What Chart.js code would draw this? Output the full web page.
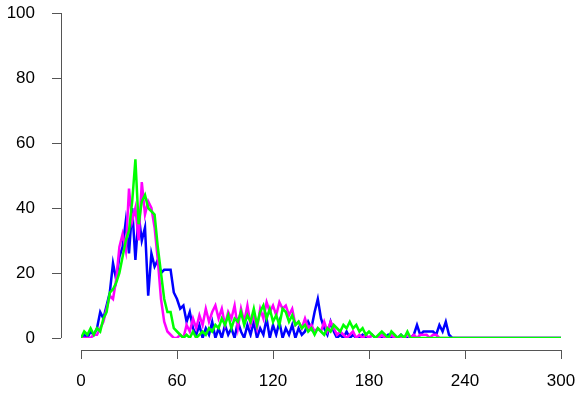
<!DOCTYPE html>
<html>
<head>
<meta charset="utf-8">
<script src="https://cdn.jsdelivr.net/npm/chart.js@4.4.1/dist/chart.umd.min.js"></script>
<style>
  html, body { margin: 0; padding: 0; background: #fff; }
  #wrap { width: 582px; height: 394px; }
</style>
</head>
<body>
<div id="wrap"><canvas id="chart" width="582" height="394"></canvas></div>
<script>
// one value every 2 units along x, starting at 0 (151 values -> 0..300)
const xStep = 2;
const xTicks = [0, 60, 120, 180, 240, 300];
const yTicks = [0, 20, 40, 60, 80, 100];

const blueValues = [
  0, 1, 0, 2, 1, 3, 8, 6, 10, 14, 23, 18, 25, 28, 36, 26, 40, 24, 38, 30,
  34, 13, 26, 22, 24, 20, 21, 21, 21, 14, 12, 9, 10, 5, 8, 3, 1, 4, 0, 3,
  1, 5, 0, 3, 0, 4, 1, 3, 0, 5, 2, 0, 4, 1, 5, 0, 3, 1, 6, 0,
  4, 1, 5, 0, 3, 1, 4, 0, 3, 1, 2, 5, 3, 8, 12, 6, 3, 1, 5, 2,
  0, 1, 0, 2, 0, 1, 0, 0, 1, 0, 0, 1, 0, 0, 0, 0, 1, 0, 0, 0,
  1, 0, 0, 0, 1, 4, 1, 2, 2, 2, 2, 1, 4, 2, 5, 1, 0, 0, 0, 0,
  0, 0, 0, 0, 0, 0, 0, 0, 0, 0, 0, 0, 0, 0, 0, 0, 0, 0, 0, 0,
  0, 0, 0, 0, 0, 0, 0, 0, 0, 0,
  0
];
const magentaValues = [
  0, 0, 0, 0, 1, 1, 3, 5, 9, 13, 12, 18, 28, 32, 27, 46, 36, 40, 30, 48,
  38, 42, 40, 34, 24, 12, 5, 2, 1, 0, 0, 1, 0, 4, 2, 6, 3, 7, 4, 9,
  5, 8, 10, 6, 9, 4, 8, 6, 10, 3, 9, 5, 10, 4, 7, 3, 9, 6, 11, 8,
  10, 7, 11, 9, 10, 7, 9, 4, 5, 3, 6, 3, 4, 2, 3, 2, 5, 2, 5, 3,
  1, 2, 1, 0, 1, 2, 0, 1, 0, 1, 0, 1, 0, 0, 1, 0, 0, 1, 0, 0,
  0, 0, 1, 0, 1, 0, 1, 1, 1, 0, 1, 1, 0, 0, 0, 0, 0, 0, 0, 0,
  0, 0, 0, 0, 0, 0, 0, 0, 0, 0, 0, 0, 0, 0, 0, 0, 0, 0, 0, 0,
  0, 0, 0, 0, 0, 0, 0, 0, 0, 0,
  0
];
const greenValues = [
  0, 2, 1, 3, 1, 3, 2, 6, 8, 14, 15, 17, 20, 25, 30, 33, 42, 55, 35, 42,
  44, 40, 39, 38, 28, 20, 12, 8, 8, 3, 2, 1, 0, 1, 0, 2, 0, 1, 2, 1,
  3, 2, 4, 3, 6, 4, 7, 3, 6, 5, 8, 4, 7, 5, 9, 4, 8, 10, 6, 9,
  5, 7, 4, 9, 8, 5, 7, 4, 5, 3, 4, 2, 3, 1, 3, 2, 1, 3, 2, 4,
  3, 2, 4, 3, 5, 3, 4, 2, 3, 1, 2, 1, 0, 1, 2, 1, 0, 2, 1, 0,
  1, 0, 2, 0, 0, 0, 0, 0, 0, 0, 0, 0, 0, 0, 0, 0, 0, 0, 0, 0,
  0, 0, 0, 0, 0, 0, 0, 0, 0, 0, 0, 0, 0, 0, 0, 0, 0, 0, 0, 0,
  0, 0, 0, 0, 0, 0, 0, 0, 0, 0,
  0
];

const toPoints = values => values.map((v, i) => ({ x: i * xStep, y: v }));

const axisColor = '#555';

// R-style detached axes: line from first to last tick, ticks pointing outward
const rAxes = {
  id: 'rAxes',
  afterDraw(chart) {
    const ctx = chart.ctx;
    const xs = chart.scales.x;
    const ys = chart.scales.y;
    const axisY = chart.chartArea.bottom + 12;
    const axisX = chart.chartArea.left - 20;
    const tick = 9;
    ctx.save();
    ctx.strokeStyle = axisColor;
    ctx.lineWidth = 1;
    ctx.beginPath();
    ctx.moveTo(xs.getPixelForValue(xTicks[0]), axisY + 0.5);
    ctx.lineTo(xs.getPixelForValue(xTicks[xTicks.length - 1]), axisY + 0.5);
    xTicks.forEach(t => {
      const px = Math.round(xs.getPixelForValue(t)) + 0.5;
      ctx.moveTo(px, axisY);
      ctx.lineTo(px, axisY + tick);
    });
    ctx.moveTo(axisX + 0.5, ys.getPixelForValue(yTicks[0]));
    ctx.lineTo(axisX + 0.5, ys.getPixelForValue(yTicks[yTicks.length - 1]));
    yTicks.forEach(t => {
      const py = Math.round(ys.getPixelForValue(t)) + 0.5;
      ctx.moveTo(axisX, py);
      ctx.lineTo(axisX - tick, py);
    });
    ctx.stroke();
    ctx.restore();
  }
};

const ctx = document.getElementById('chart').getContext('2d');

new Chart(ctx, {
  type: 'line',
  data: {
    datasets: [
      { label: 'green', data: toPoints(greenValues), borderColor: '#00ff00' },
      { label: 'magenta', data: toPoints(magentaValues), borderColor: '#ff00ff' },
      { label: 'blue', data: toPoints(blueValues), borderColor: '#0000ff' }
    ]
  },
  options: {
    responsive: false,
    animation: false,
    layout: { padding: { top: 13, right: 21, left: 0, bottom: 0 } },
    elements: {
      point: { radius: 0 },
      line: { borderWidth: 2.5, tension: 0, fill: false }
    },
    plugins: {
      legend: { display: false },
      tooltip: { enabled: false }
    },
    scales: {
      x: {
        type: 'linear',
        min: 0,
        max: 300,
        grid: { display: false },
        border: { display: false },
        afterBuildTicks: s => { s.ticks = xTicks.map(v => ({ value: v })); },
        afterFit: s => {
          s.height = 56;
          s.paddingLeft = 0;
          s.paddingRight = 0;
        },
        ticks: {
          autoSkip: false,
          maxRotation: 0,
          padding: 25,
          color: '#000',
          font: { family: 'Liberation Sans, Arial, sans-serif', size: 17 }
        }
      },
      y: {
        min: 0,
        max: 100,
        grid: { display: false },
        border: { display: false },
        afterBuildTicks: s => { s.ticks = yTicks.map(v => ({ value: v })); },
        afterFit: s => {
          s.width = 81;
          s.paddingTop = 0;
          s.paddingBottom = 0;
        },
        ticks: {
          autoSkip: false,
          padding: 38,
          color: '#000',
          font: { family: 'Liberation Sans, Arial, sans-serif', size: 17 }
        }
      }
    }
  },
  plugins: [rAxes]
});
</script>
</body>
</html>
